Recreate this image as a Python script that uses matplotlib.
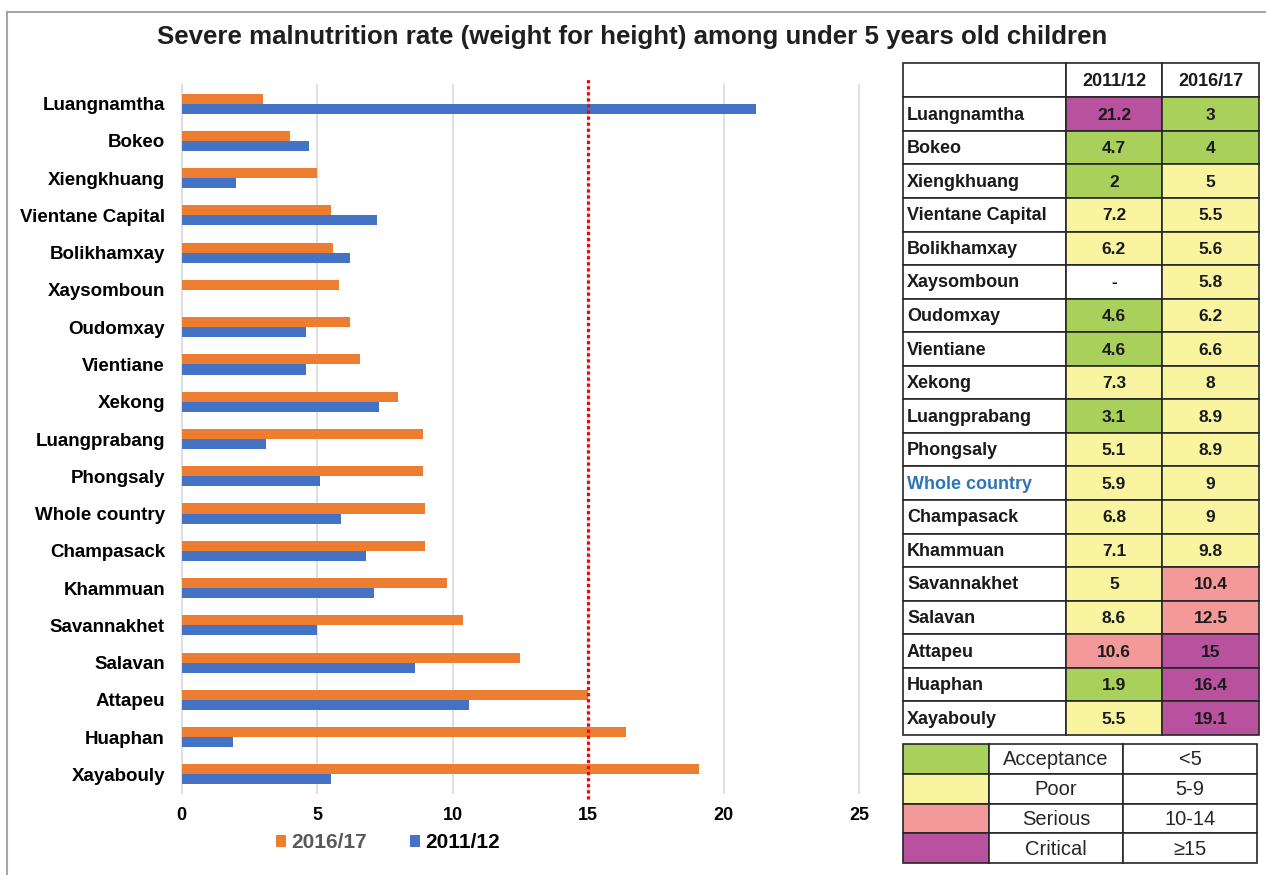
import numpy as np
import matplotlib.pyplot as plt
from matplotlib.patches import Rectangle
from matplotlib.lines import Line2D

plt.rcParams['font.family'] = ['Liberation Sans', 'DejaVu Sans']

provinces = ['Luangnamtha', 'Bokeo', 'Xiengkhuang', 'Vientane Capital', 'Bolikhamxay',
             'Xaysomboun', 'Oudomxay', 'Vientiane', 'Xekong', 'Luangprabang', 'Phongsaly',
             'Whole country', 'Champasack', 'Khammuan', 'Savannakhet', 'Salavan', 'Attapeu',
             'Huaphan', 'Xayabouly']
rate_2011 = [21.2, 4.7, 2, 7.2, 6.2, None, 4.6, 4.6, 7.3, 3.1, 5.1, 5.9, 6.8, 7.1, 5,
             8.6, 10.6, 1.9, 5.5]
rate_2016 = [3, 4, 5, 5.5, 5.6, 5.8, 6.2, 6.6, 8, 8.9, 8.9, 9, 9, 9.8, 10.4, 12.5, 15,
             16.4, 19.1]
periods = ['2011/12', '2016/17']
levels = ['Acceptance', 'Poor', 'Serious', 'Critical']
level_ranges = ['<5', '5-9', '10-14', '\u226515']
level_colors = ['#A9D05A', '#F8F4A0', '#F4999A', '#B8529E']
threshold = 15
title = 'Severe malnutrition rate (weight for height) among under 5 years old children'

ORANGE = '#ED7D31'
BLUE = '#4472C4'

W, H = 1266, 875
fig = plt.figure(figsize=(W / 100, H / 100), dpi=100)


def box(x0, y0, x1, y1):
    # pixel box (top-left origin) -> figure fraction rect
    return [x0 / W, 1 - y1 / H, (x1 - x0) / W, (y1 - y0) / H]


# outer frame (top and left edges)
fig.add_artist(Line2D([7 / W, 7 / W], [0, 1 - 12 / H], color='#A6A6A6', lw=1.5))
fig.add_artist(Line2D([7 / W, 1], [1 - 12 / H, 1 - 12 / H], color='#A6A6A6', lw=1.5))

fig.text(632 / W, 1 - 37 / H, title, ha='center', va='center', fontsize=18.6,
         fontweight='bold', color='#1F1F1F')

# ---- bar chart ----
ax = fig.add_axes(box(181.6, 85, 859, 793))
y = np.arange(len(provinces))
v2011 = np.array([np.nan if v is None else v for v in rate_2011], dtype=float)
v2016 = np.array(rate_2016, dtype=float)
bh = 0.27
ax.barh(y - bh / 2, v2016, height=bh, color=ORANGE, label=periods[1], zorder=3)
ax.barh(y + bh / 2, v2011, height=bh, color=BLUE, label=periods[0], zorder=3)
ax.axvline(threshold, ymin=-0.008, ymax=1.008, color='#FF0000', lw=2.3,
           ls=(0, (1, 0.9)), clip_on=False, zorder=4)

ax.set_xlim(0, 25)
ax.set_ylim(len(provinces) - 0.5, -0.5)
ax.set_xticks(range(0, 26, 5))
ax.set_yticks(y)
ax.set_yticklabels(provinces)
ax.tick_params(axis='y', length=0, pad=12, labelsize=13.5)
ax.tick_params(axis='x', length=0, pad=10, labelsize=13)
for lab in ax.get_xticklabels() + ax.get_yticklabels():
    lab.set_fontweight('bold')
ax.grid(axis='x', color='#D9D9D9', lw=1.2, zorder=0)
for gl in ax.get_xgridlines():
    gl.set_clip_on(False)
for s in ax.spines.values():
    s.set_visible(False)

handles, labels = ax.get_legend_handles_labels()
leg = ax.legend(handles, labels, loc='center', bbox_to_anchor=(388 / W, 1 - 843 / H),
                bbox_transform=fig.transFigure, ncol=2, frameon=False,
                handlelength=0.45, handleheight=0.45, handletextpad=0.25,
                columnspacing=2.1, prop={'weight': 'bold', 'size': 15})
leg.get_texts()[0].set_color('#595959')
leg.get_texts()[1].set_color('#000000')


# ---- value table ----
def level_color(v):
    if v is None:
        return 'white'
    if v < 5:
        return level_colors[0]
    if v < 10:
        return level_colors[1]
    if v < 15:
        return level_colors[2]
    return level_colors[3]


tab = fig.add_axes([0, 0, 1, 1], facecolor='none')
tab.set_xlim(0, W)
tab.set_ylim(H, 0)
tab.axis('off')

edge = '#262626'
cols = [903, 1066, 1162, 1259]
top, head_h = 63, 34.3
row_h = (735 - top - head_h) / len(provinces)


def cell(x0, x1, y0, h, color='white'):
    tab.add_patch(Rectangle((x0, y0), x1 - x0, h, facecolor=color, edgecolor=edge, lw=1.2))


for j in range(3):
    cell(cols[j], cols[j + 1], top, head_h)
for j, p in enumerate(periods):
    tab.text((cols[j + 1] + cols[j + 2]) / 2, top + head_h / 2 + 1, p, ha='center',
             va='center', fontsize=13, fontweight='bold', color='#1A1A1A')

for i, name in enumerate(provinces):
    y0 = top + head_h + i * row_h
    yc = y0 + row_h / 2 + 1
    cell(cols[0], cols[1], y0, row_h)
    tab.text(cols[0] + 4, yc, name, ha='left', va='center', fontsize=13,
             fontweight='bold', color='#2E75B6' if name == 'Whole country' else '#1A1A1A')
    for j, val in enumerate([rate_2011[i], rate_2016[i]]):
        cell(cols[j + 1], cols[j + 2], y0, row_h, level_color(val))
        txt = '-' if val is None else f'{val:g}'
        tab.text((cols[j + 1] + cols[j + 2]) / 2, yc, txt, ha='center', va='center',
                 fontsize=12.5, fontweight='bold', color='#1A1A1A')

# ---- colour key ----
kcols = [903, 989, 1123, 1257]
ktop, krow = 744, 29.75
for i, (lvl, rng, c) in enumerate(zip(levels, level_ranges, level_colors)):
    y0 = ktop + i * krow
    yc = y0 + krow / 2 + 1
    cell(kcols[0], kcols[1], y0, krow, c)
    cell(kcols[1], kcols[2], y0, krow)
    cell(kcols[2], kcols[3], y0, krow)
    tab.text((kcols[1] + kcols[2]) / 2, yc, lvl, ha='center', va='center',
             fontsize=14.5, color='#262626')
    tab.text((kcols[2] + kcols[3]) / 2, yc, rng, ha='center', va='center',
             fontsize=14.5, color='#262626')

fig.savefig('out.png', dpi=100)
